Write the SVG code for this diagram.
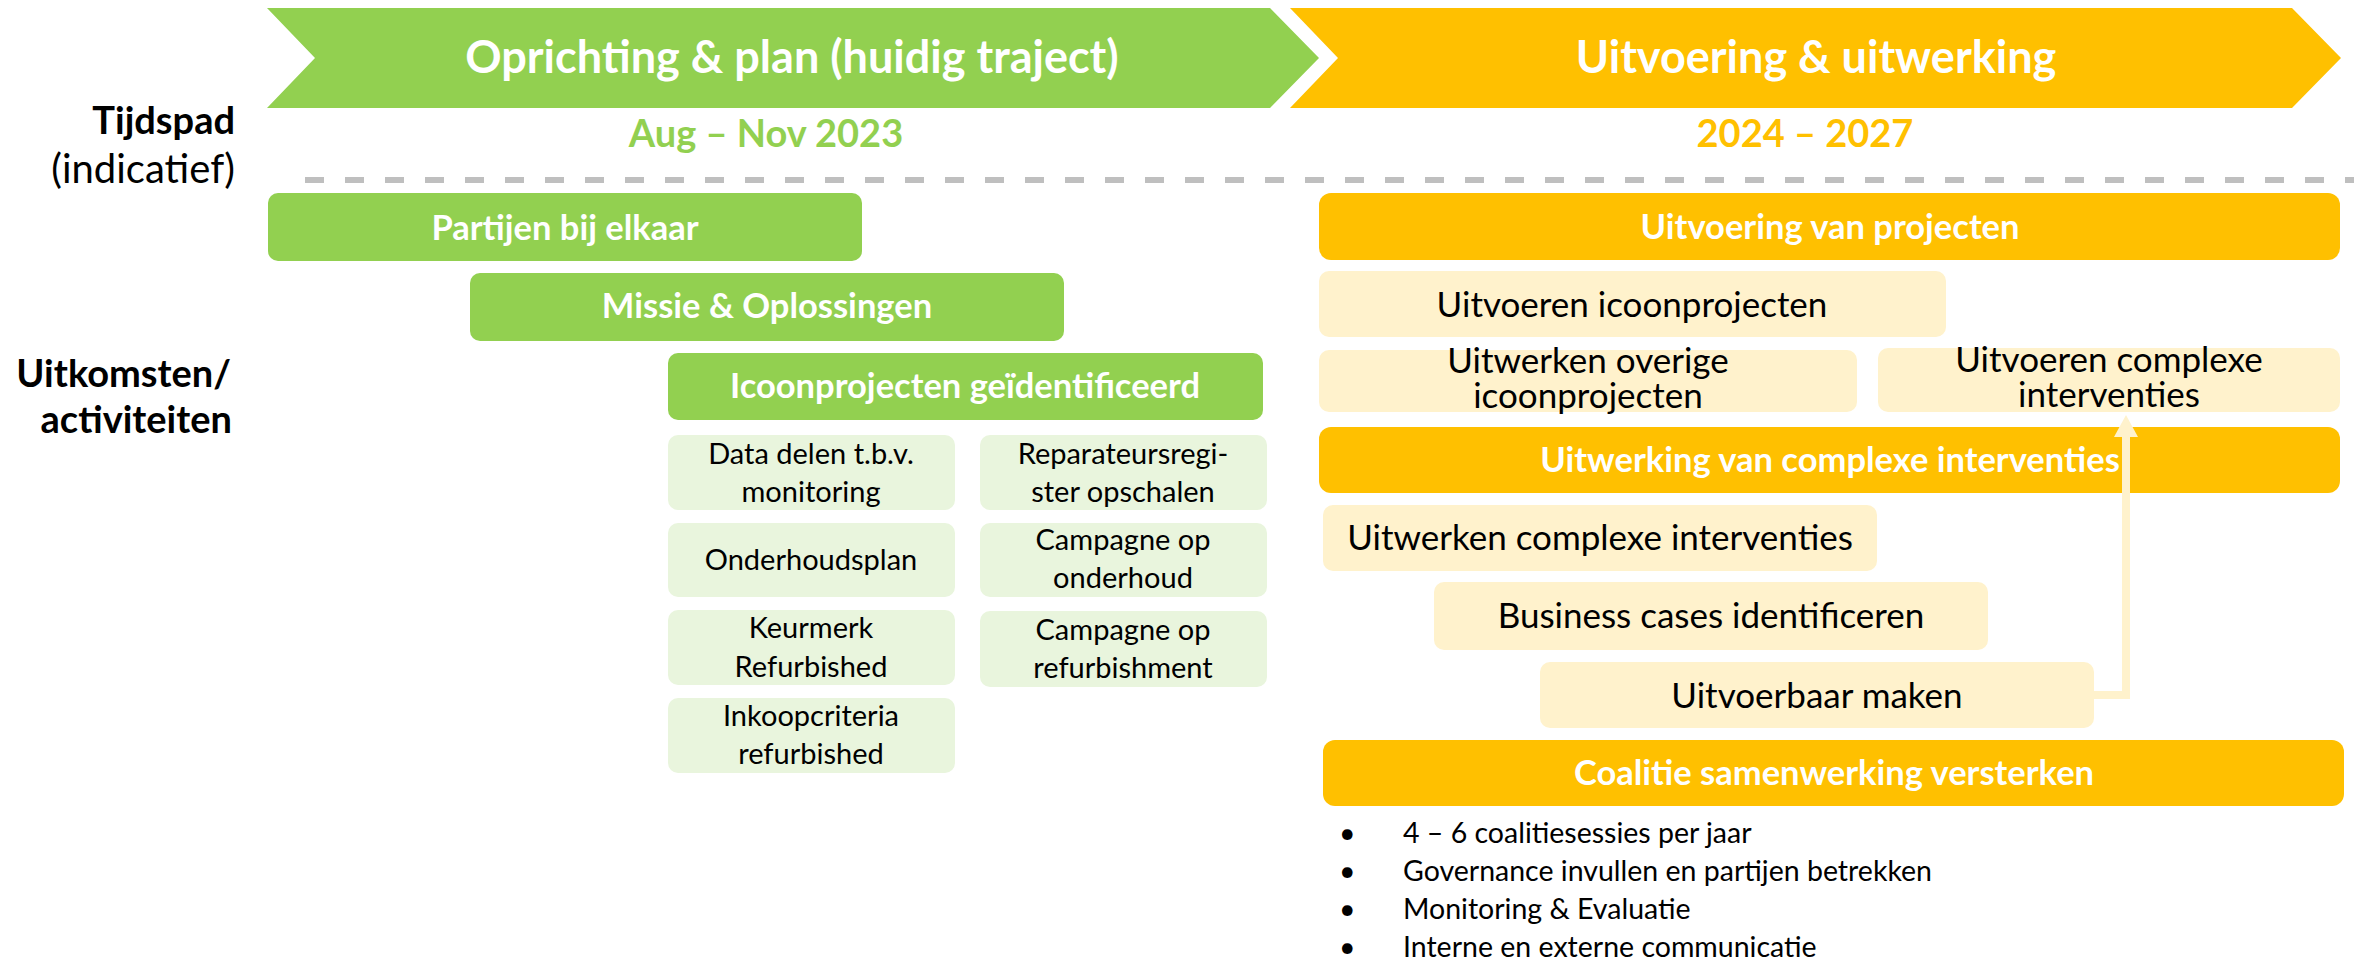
<svg xmlns="http://www.w3.org/2000/svg" width="2354" height="960" viewBox="0 0 2354 960">
<style>
text{font-family:Lato,"Liberation Sans",sans-serif}
.g{fill:#92D050}
.y{fill:#FFC000}
.lg{fill:#E9F5DD}
.ly{fill:#FFF2CC}
.hdr{font-size:45px;font-weight:700;fill:#fff;text-anchor:middle}
.date{font-size:38px;font-weight:700;text-anchor:middle}
.lbl{font-size:38px;fill:#000;text-anchor:end}
.lblr{font-size:40px;fill:#000;text-anchor:end}
.b{font-weight:700}
.wb{font-size:34.5px;font-weight:700;fill:#fff;text-anchor:middle}
.sg{font-size:29px;fill:#000;text-anchor:middle}
.sy{font-size:35px;fill:#000;text-anchor:middle}
.bul{font-size:28.5px;fill:#000}
</style>
<defs>
<marker id="ah" viewBox="0 0 22 24" refX="0" refY="12" markerWidth="22" markerHeight="24" markerUnits="userSpaceOnUse" orient="auto">
<polygon points="0,0 22,12 0,24" fill="#FFF2CC"/>
</marker>
</defs>

<g id="phase1">
<polygon class="g" points="267,8 1270,8 1319,58 1270,108 267,108 315,58"/>
<text class="hdr" x="792" y="73">Oprichting &amp; plan (huidig traject)</text>
<text class="date" x="766" y="147" fill="#92D050">Aug – Nov 2023</text>
</g>
<g id="phase2">
<polygon class="y" points="1290,8 2292,8 2341,58 2292,108 1290,108 1338,58"/>
<text class="hdr" x="1816" y="73">Uitvoering &amp; uitwerking</text>
<text class="date" x="1805" y="147" fill="#FFC000">2024 – 2027</text>
</g>

<g id="labels">
<text class="lbl b" x="235" y="134">Tijdspad</text>
<text class="lblr" x="235" y="183">(indicatief)</text>
<text class="lbl b" x="231" y="387">Uitkomsten/</text>
<text class="lbl b" x="232" y="433">activiteiten</text>
</g>

<line id="divider" x1="305" y1="180" x2="2354" y2="180" stroke="#BFBFBF" stroke-width="6" stroke-dasharray="19 21"/>

<g id="partijen">
<rect class="g" x="268" y="193" width="594" height="68" rx="10"/>
<text class="wb" x="565" y="240">Partijen bij elkaar</text>
</g>
<g id="missie">
<rect class="g" x="470" y="273" width="594" height="68" rx="10"/>
<text class="wb" x="767" y="318">Missie &amp; Oplossingen</text>
</g>
<g id="icoon">
<rect class="g" x="668" y="353" width="595" height="67" rx="10"/>
<text class="wb" x="965" y="398">Icoonprojecten geïdentificeerd</text>
</g>

<g id="data">
<rect class="lg" x="668" y="435" width="287" height="75" rx="10"/>
<text class="sg" x="811" y="464">Data delen t.b.v.</text>
<text class="sg" x="811" y="502">monitoring</text>
</g>
<g id="reparateurs">
<rect class="lg" x="980" y="435" width="287" height="75" rx="10"/>
<text class="sg" x="1123" y="464">Reparateursregi-</text>
<text class="sg" x="1123" y="502">ster opschalen</text>
</g>
<g id="onderhoudsplan">
<rect class="lg" x="668" y="523" width="287" height="74" rx="10"/>
<text class="sg" x="811" y="570">Onderhoudsplan</text>
</g>
<g id="campagne-onderhoud">
<rect class="lg" x="980" y="523" width="287" height="74" rx="10"/>
<text class="sg" x="1123" y="550">Campagne op</text>
<text class="sg" x="1123" y="588">onderhoud</text>
</g>
<g id="keurmerk">
<rect class="lg" x="668" y="610" width="287" height="75" rx="10"/>
<text class="sg" x="811" y="638">Keurmerk</text>
<text class="sg" x="811" y="677">Refurbished</text>
</g>
<g id="campagne-refurb">
<rect class="lg" x="980" y="611" width="287" height="76" rx="10"/>
<text class="sg" x="1123" y="640">Campagne op</text>
<text class="sg" x="1123" y="678">refurbishment</text>
</g>
<g id="inkoop">
<rect class="lg" x="668" y="698" width="287" height="75" rx="10"/>
<text class="sg" x="811" y="726">Inkoopcriteria</text>
<text class="sg" x="811" y="764">refurbished</text>
</g>

<g id="uitvoering-projecten">
<rect class="y" x="1319" y="193" width="1021" height="67" rx="12"/>
<text class="wb" x="1830" y="239">Uitvoering van projecten</text>
</g>
<g id="uitvoeren-icoon">
<rect class="ly" x="1319" y="271" width="627" height="66" rx="10"/>
<text class="sy" x="1632" y="317">Uitvoeren icoonprojecten</text>
</g>
<g id="uitwerken-overige">
<rect class="ly" x="1319" y="350" width="538" height="62" rx="10"/>
<text class="sy" x="1588" y="373">Uitwerken overige</text>
<text class="sy" x="1588" y="408">icoonprojecten</text>
</g>
<g id="uitvoeren-complexe">
<rect class="ly" x="1878" y="348" width="462" height="64" rx="10"/>
<text class="sy" x="2109" y="372">Uitvoeren complexe</text>
<text class="sy" x="2109" y="407">interventies</text>
</g>
<g id="uitwerking-complexe">
<rect class="y" x="1319" y="427" width="1021" height="66" rx="12"/>
<text class="wb" x="1830" y="472">Uitwerking van complexe interventies</text>
</g>
<g id="uitwerken-complexe">
<rect class="ly" x="1323" y="505" width="554" height="66" rx="10"/>
<text class="sy" x="1600" y="550">Uitwerken complexe interventies</text>
</g>
<g id="business-cases">
<rect class="ly" x="1434" y="582" width="554" height="68" rx="10"/>
<text class="sy" x="1711" y="628">Business cases identificeren</text>
</g>
<g id="uitvoerbaar">
<rect class="ly" x="1540" y="662" width="554" height="66" rx="10"/>
<text class="sy" x="1817" y="708">Uitvoerbaar maken</text>
</g>

<g id="connectors">
<path d="M2094,695 H2126 V437" fill="none" stroke="#FFF2CC" stroke-width="8" marker-end="url(#ah)"/>
</g>

<g id="coalitie">
<rect class="y" x="1323" y="740" width="1021" height="66" rx="12"/>
<text class="wb" x="1834" y="785">Coalitie samenwerking versterken</text>
</g>

<g id="bullets">
<text class="bul" x="1339" y="843">•</text><text class="bul" x="1403" y="843">4 – 6 coalitiesessies per jaar</text>
<text class="bul" x="1339" y="881">•</text><text class="bul" x="1403" y="881">Governance invullen en partijen betrekken</text>
<text class="bul" x="1339" y="919">•</text><text class="bul" x="1403" y="919">Monitoring &amp; Evaluatie</text>
<text class="bul" x="1339" y="957">•</text><text class="bul" x="1403" y="957">Interne en externe communicatie</text>
</g>
</svg>
